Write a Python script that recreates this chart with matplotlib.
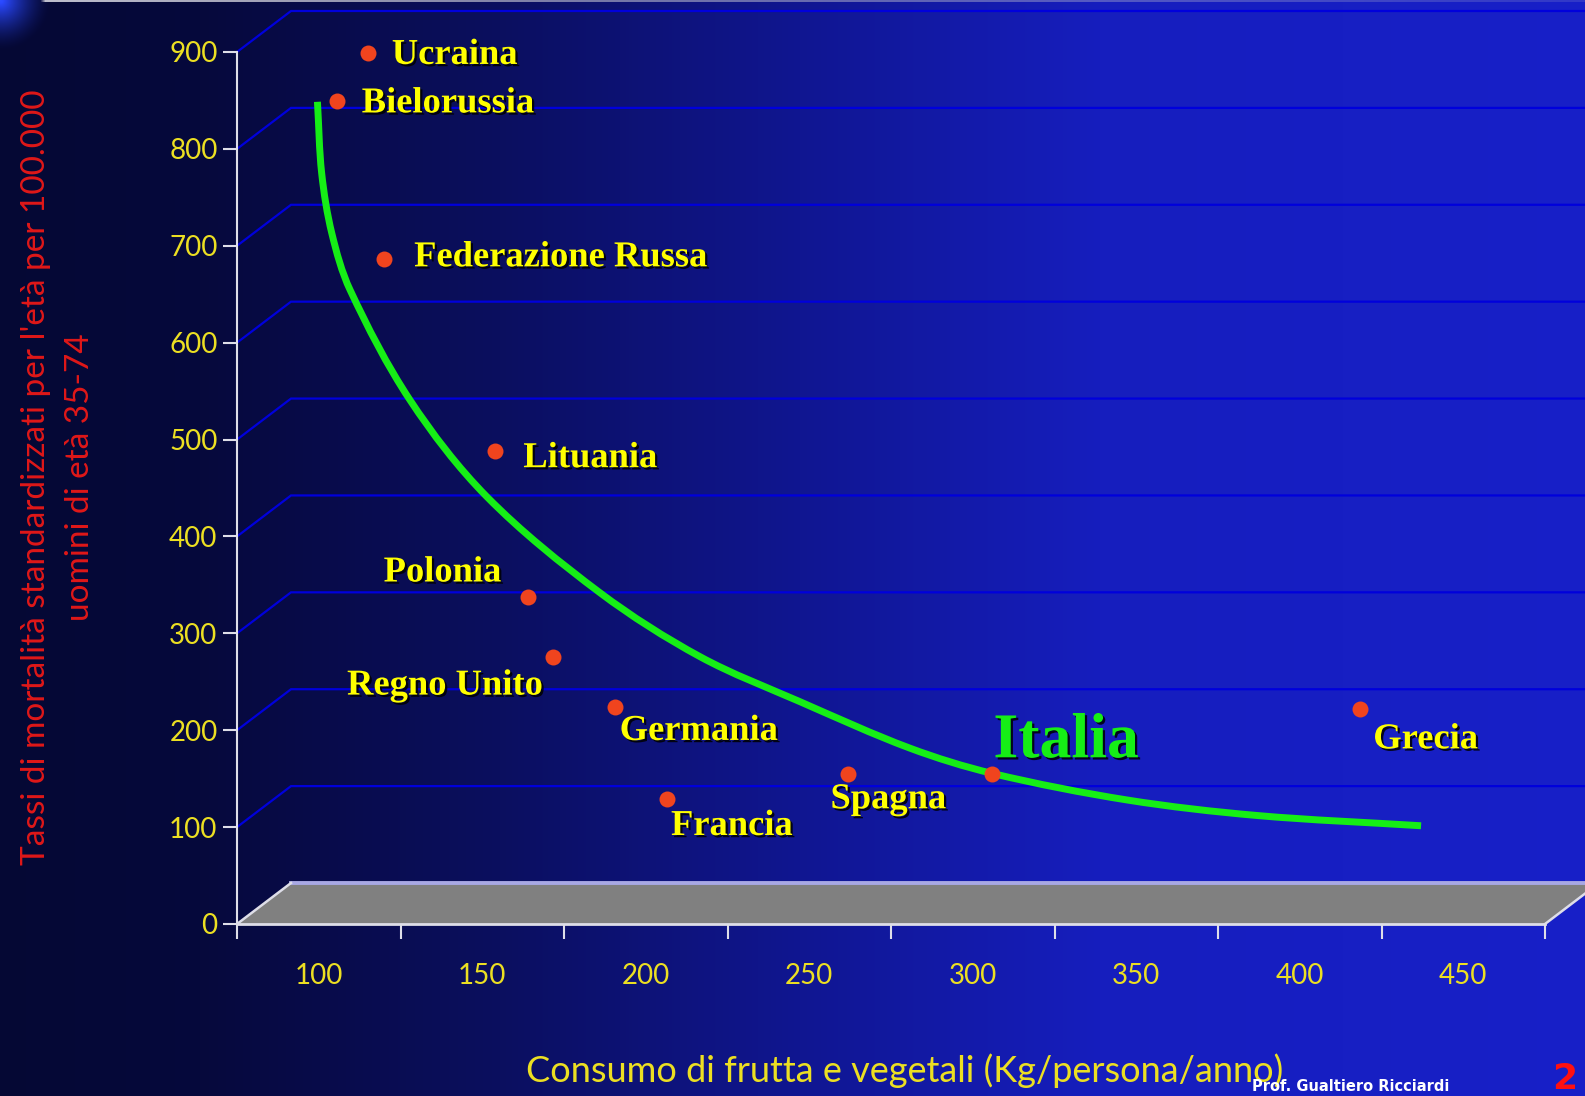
import numpy as np
import matplotlib
matplotlib.use("Agg")
import matplotlib.pyplot as plt
import matplotlib.patheffects as pe
from matplotlib.patches import Polygon, PathPatch
from matplotlib.path import Path
from matplotlib.ticker import FixedLocator, FixedFormatter, NullFormatter

# ---------------------------------------------------------------------------
# Data: fruit & vegetable consumption vs. age-standardised mortality (men 35-74)
# ---------------------------------------------------------------------------
countries = ["Ucraina", "Bielorussia", "Federazione Russa", "Lituania", "Polonia",
             "Regno Unito", "Germania", "Francia", "Spagna", "Italia", "Grecia"]
consumption = [115, 105.5, 120, 154, 164, 171.5, 190.5, 206.5, 262, 306, 418.5]
mortality = [899, 849, 686, 488, 337, 276, 224, 129, 154.5, 154.5, 221.5]

# hand-drawn trend curve
trend_x = [99.6, 100.9, 104.0, 109.6, 127.9, 151.4, 186.0, 216.6,
           247.2, 280.7, 305.9, 347.2, 386.9, 437.1]
trend_y = [848.6, 774.7, 712.8, 654.3, 540.8, 441.0, 341.9, 275.9,
           229.4, 181.6, 155.5, 128.0, 112.0, 101.4]

y_ticks = [0, 100, 200, 300, 400, 500, 600, 700, 800, 900]
x_edges = [75, 125, 175, 225, 275, 325, 375, 425, 475]
x_centers = [100, 150, 200, 250, 300, 350, 400, 450]
x_labels = ["100", "150", "200", "250", "300", "350", "400", "450"]

x_title = "Consumo di frutta e vegetali (Kg/persona/anno)"
y_title = "Tassi di mortalità standardizzati per l'età per 100.000\nuomini di età 35-74"

# ---------------------------------------------------------------------------
# Layout / style
# ---------------------------------------------------------------------------
W, H, DPI = 1585, 1096, 100
PX = 72.0 / DPI  # points per pixel

YELLOW = "#ecdf22"
LABEL_YELLOW = "#ffff00"
GREEN = "#16ee16"
RED_DOT = "#f0441e"
GRID_BLUE = "#0000dc"
AXIS_WHITE = "#dedee8"

# label offsets from each dot (pixels: dx to anchor edge, dy of baseline below dot)
label_layout = {
    "Ucraina": (24, 11, "left"),
    "Bielorussia": (25, 11, "left"),
    "Federazione Russa": (30, 7, "left"),
    "Lituania": (28, 16, "left"),
    "Polonia": (-27, -16, "right"),
    "Regno Unito": (-10, 38, "right"),
    "Germania": (5, 33, "left"),
    "Francia": (4, 36, "left"),
    "Spagna": (-18, 34, "left"),
    "Italia": (1, -17, "left"),
    "Grecia": (13, 39, "left"),
}

plt.rcParams["font.family"] = ["Lato", "DejaVu Sans"]

fig = plt.figure(figsize=(W / DPI, H / DPI), dpi=DPI)
fig.patch.set_facecolor("#050834")

# --- background: horizontal navy-to-blue gradient with a corner glow -------
bg = fig.add_axes([0, 0, 1, 1], zorder=0)
bg.set_axis_off()
xs = np.arange(W)
stop_x = [0, 200, 500, 800, 1100, 1585]
stop_c = np.array([[5, 8, 52], [6, 9, 60], [11, 15, 95],
                   [16, 22, 145], [22, 30, 190], [24, 32, 200]]) / 255.0
row = np.stack([np.interp(xs, stop_x, stop_c[:, k]) for k in range(3)], axis=-1)
img = np.repeat(row[None, :, :], H, axis=0)
yy, xx = np.mgrid[0:H, 0:W]
glow = np.clip(1 - np.hypot(xx, yy) / 50.0, 0, 1) ** 1.5
img = img + glow[..., None] * (np.array([40, 70, 220]) / 255.0)
edge = np.interp(xs, [0, 40, 45, 600, 1585], [0, 0, 1, 0.6, 0.15])
img[0:2, :, :] = img[0:2, :, :] * (1 - edge[None, :, None]) + \
    edge[None, :, None] * (np.array([190, 190, 205]) / 255.0)
img = np.clip(img, 0, 1)
bg.imshow(img, extent=(0, W, H, 0), aspect="auto", interpolation="nearest")
bg.set_xlim(0, W)
bg.set_ylim(H, 0)

# --- main (front-plane) axes ---------------------------------------------
L, R, T, B = 237, 1545, 52, 924
ax = fig.add_axes([L / W, 1 - B / H, (R - L) / W, (B - T) / H], zorder=1)
ax.patch.set_alpha(0)
x0, x1 = x_edges[0], x_edges[-1]
ax.set_xlim(x0, x1)
ax.set_ylim(y_ticks[0], y_ticks[-1])

# pixels per data unit on each axis
sx = (R - L) / (x1 - x0)
sy = (B - T) / (y_ticks[-1] - y_ticks[0])

# depth of the 3-D box, in data units (54 px right, 41 px up)
ddx = 54 / sx
ddy = 41 / sy
x_far = x1 + ddx + 30

# back-wall gridlines with their diagonal connection to the value axis
for v in y_ticks[1:]:
    ax.plot([x0, x0 + ddx, x_far], [v, v + ddy, v + ddy], color=GRID_BLUE,
            lw=1.6, clip_on=False, zorder=1, solid_joinstyle="miter")

# floor
floor = Polygon([(x0, 0), (x1, 0), (x1 + ddx, ddy), (x0 + ddx, ddy)],
                closed=True, facecolor="#808080", edgecolor="none",
                clip_on=False, zorder=2)
ax.add_patch(floor)
ax.plot([x0 + ddx, x1 + ddx], [ddy, ddy], color="#a8a8e4", lw=2.8,
        clip_on=False, zorder=2.1)
ax.plot([x0, x0 + ddx], [0, ddy], color=AXIS_WHITE, lw=1.8,
        clip_on=False, zorder=2.2)
ax.plot([x1, x1 + ddx], [0, ddy], color=AXIS_WHITE, lw=1.8,
        clip_on=False, zorder=2.2)

# spines
for side in ("top", "right"):
    ax.spines[side].set_visible(False)
ax.spines["left"].set_color(AXIS_WHITE)
ax.spines["left"].set_linewidth(1.5)
ax.spines["bottom"].set_color(AXIS_WHITE)
ax.spines["bottom"].set_linewidth(2.0)
ax.spines["left"].set_zorder(2.5)
ax.spines["bottom"].set_zorder(2.5)

# ticks
ax.yaxis.set_major_locator(FixedLocator(y_ticks))
ax.yaxis.set_major_formatter(FixedFormatter([str(v) for v in y_ticks]))
ax.tick_params(axis="y", which="major", direction="out", length=10, width=1.5,
               color=AXIS_WHITE, labelcolor=YELLOW, labelsize=20, pad=4)
ax.xaxis.set_major_locator(FixedLocator(x_edges))
ax.xaxis.set_major_formatter(NullFormatter())
ax.xaxis.set_minor_locator(FixedLocator(x_centers))
ax.xaxis.set_minor_formatter(FixedFormatter(x_labels))
ax.tick_params(axis="x", which="major", direction="out", length=11, width=1.5,
               color=AXIS_WHITE)
ax.tick_params(axis="x", which="minor", length=0, pad=28, labelsize=20,
               labelcolor=YELLOW)

# axis titles
ax.set_xlabel(x_title, fontsize=26, color=YELLOW, va="baseline")
ax.xaxis.set_label_coords((905 - L) / (R - L), (B - 1082) / (B - T))
ax.set_ylabel(y_title, fontsize=24, color="#e01818", ha="center", va="center",
              multialignment="center", linespacing=1.6)
ax.yaxis.set_label_coords((58 - L) / (R - L), (B - 477) / (B - T))


def smooth_path(xv, yv):
    """Cubic Bezier path passing through every given point (tangents taken
    in screen space so the curve bends evenly)."""
    p = np.column_stack([np.asarray(xv, float) * sx, np.asarray(yv, float) * sy])
    n = len(p)
    tang = np.zeros_like(p)
    tang[0] = p[1] - p[0]
    tang[-1] = p[-1] - p[-2]
    tang[1:-1] = p[2:] - p[:-2]
    tang /= np.linalg.norm(tang, axis=1)[:, None]
    verts = [p[0]]
    codes = [Path.MOVETO]
    for i in range(n - 1):
        seg = np.linalg.norm(p[i + 1] - p[i]) / 3.0
        verts += [p[i] + tang[i] * seg, p[i + 1] - tang[i + 1] * seg, p[i + 1]]
        codes += [Path.CURVE4] * 3
    verts = np.array(verts) / np.array([sx, sy])
    return Path(verts, codes)


# trend curve and country points
ax.add_patch(PathPatch(smooth_path(trend_x, trend_y), facecolor="none",
                       edgecolor=GREEN, lw=5, capstyle="butt",
                       joinstyle="round", zorder=4, clip_on=False))
ax.plot(consumption, mortality, "o", ms=11.5, color=RED_DOT, mec="none",
        zorder=5, clip_on=False)

shadow = [pe.withSimplePatchShadow(offset=(1.6, -1.6), shadow_rgbFace="black",
                                   alpha=0.85)]
for name, xv, yv in zip(countries, consumption, mortality):
    dx, dy, ha = label_layout[name]
    big = name == "Italia"
    ax.annotate(name, (xv, yv), xytext=(dx * PX, -dy * PX),
                textcoords="offset points", ha=ha, va="baseline",
                fontsize=46 if big else 26.3, fontweight="bold",
                family=["Liberation Serif", "DejaVu Serif"],
                color=GREEN if big else LABEL_YELLOW,
                path_effects=shadow, zorder=6, annotation_clip=False)

# slide footer
fig.text(1252 / W, 1 - 1094 / H, "Prof. Gualtiero Ricciardi", color="white",
         fontsize=10.5, fontweight="bold", va="bottom", ha="left",
         family=["DejaVu Sans"])
fig.text(1577 / W, 1 - 1062 / H, "2", color="#ff1010", fontsize=26,
         fontweight="bold", va="top", ha="right", family=["DejaVu Sans"])

fig.savefig("out.png", dpi=DPI, facecolor=fig.get_facecolor())
